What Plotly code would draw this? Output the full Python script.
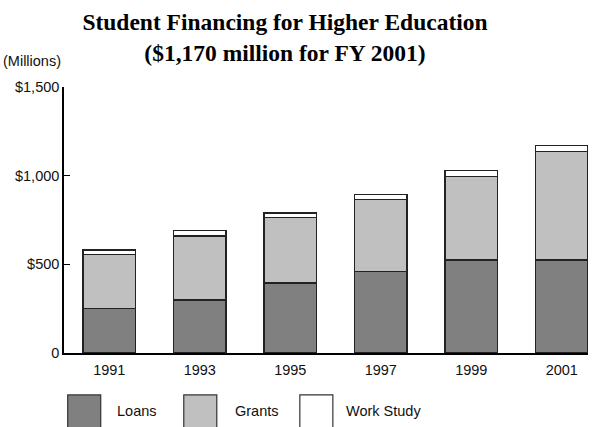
import plotly.graph_objects as go

years = ["1991", "1993", "1995", "1997", "1999", "2001"]
loans = [250, 300, 395, 460, 525, 525]
grants = [305, 360, 370, 405, 470, 610]
work_study = [25, 30, 25, 30, 35, 35]
series_names = ["Loans", "Grants", "Work Study"]
series_colors = ["#808080", "#c0c0c0", "#ffffff"]
y_tickvals = [0, 500, 1000, 1500]
y_ticktext = ["0", "$500", "$1,000", "$1,500"]

SANS = "Liberation Sans, Arial, sans-serif"
FS = 14.5

fig = go.Figure()
for name, vals, col in zip(series_names, [loans, grants, work_study], series_colors):
    fig.add_trace(go.Bar(
        x=years, y=vals, name=name,
        marker=dict(color=col, line=dict(color="#222222", width=1.5)),
        width=0.575,
    ))

W, H = 597, 427
L, R, T, B = 64.3, 9, 86.5, 74
pw = W - L - R
ph = H - T - B

def px_x(px):
    return (px - L) / pw

def px_y(py):
    return (H - B - py) / ph

shapes = []
annotations = []
legend_x = [68, 184, 300]
text_x = [115, 233, 344]
for i, (name, col) in enumerate(zip(series_names, series_colors)):
    shapes.append(dict(type="rect", xref="paper", yref="paper",
                       x0=px_x(legend_x[i]), x1=px_x(legend_x[i] + 33),
                       y0=px_y(395), y1=px_y(429),
                       fillcolor=col, line=dict(color="#333333", width=1.2)))
    annotations.append(dict(xref="paper", yref="paper", x=px_x(text_x[i]), y=px_y(411),
                            xanchor="left", yanchor="middle", showarrow=False,
                            text=name, font=dict(family=SANS, size=FS, color="#111111")))

annotations.append(dict(xref="paper", yref="paper", x=px_x(1), y=px_y(60),
                        xanchor="left", yanchor="middle", showarrow=False,
                        text="(Millions)", font=dict(family=SANS, size=FS, color="#111111")))

fig.update_layout(
    width=W, height=H,
    barmode="stack",
    showlegend=False,
    plot_bgcolor="white", paper_bgcolor="white",
    margin=dict(l=L, r=R, t=T, b=B, pad=0),
    title=dict(text="<b>Student Financing for Higher Education<br>($1,170 million for FY 2001)</b>",
               x=285 / W, xref="container", xanchor="center",
               y=1 - 30 / H, yref="container", yanchor="top",
               font=dict(family="Liberation Serif, Times New Roman, serif", size=23.5, color="#000000")),
    xaxis=dict(type="category", range=[-0.5, 5.29], showline=True, linecolor="#000000", linewidth=1.5,
               ticks="", showgrid=False, zeroline=False,
               tickfont=dict(family=SANS, size=FS, color="#111111"), ticklabelstandoff=3),
    yaxis=dict(range=[0, 1500], tickvals=y_tickvals, ticktext=y_ticktext,
               showline=True, linecolor="#000000", linewidth=1.5,
               ticks="inside", ticklen=6, tickcolor="#000000", tickwidth=1.2,
               showgrid=False, zeroline=False,
               tickfont=dict(family=SANS, size=FS, color="#111111")),
    shapes=shapes,
    annotations=annotations,
)

fig.write_html("out.html", config={"displayModeBar": False},
               post_script="document.body.style.margin='0';")
